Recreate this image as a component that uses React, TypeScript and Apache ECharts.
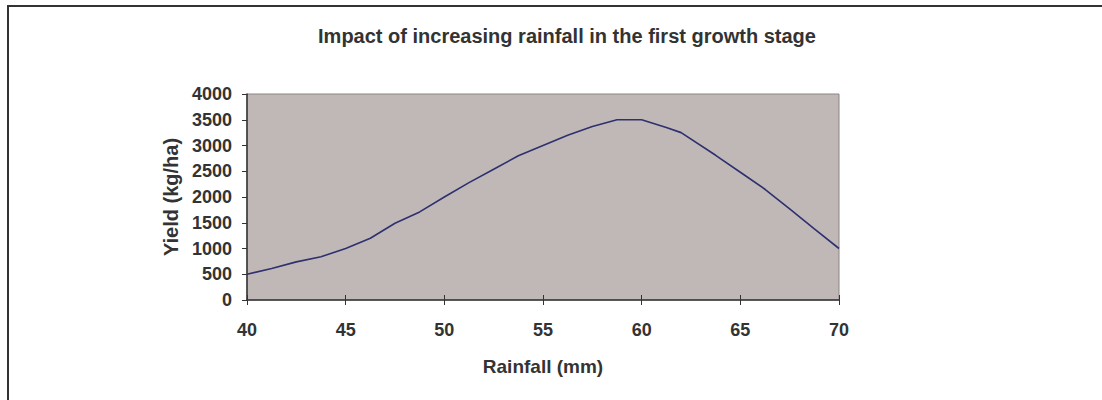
import React, { useEffect, useRef } from "react";
import * as echarts from "echarts";

// Rainfall during the first growth stage (mm) and the resulting yield (kg/ha)
const rainfall = [40, 41.25, 42.5, 43.75, 45, 46.25, 47.5, 48.75, 50, 51.25, 52.5, 53.75, 55, 56.25, 57.5, 58.75, 60, 61.25, 62, 63.75, 65, 66.25, 67.5, 68.75, 70];
const yieldKgHa = [500, 610, 740, 840, 1000, 1200, 1490, 1710, 2000, 2280, 2540, 2800, 3000, 3200, 3370, 3500, 3500, 3350, 3250, 2810, 2480, 2150, 1770, 1380, 1000];

const titleText = "Impact of increasing rainfall in the first growth stage";
const xAxisName = "Rainfall (mm)";
const yAxisName = "Yield (kg/ha)";

const FONT = "'Liberation Sans', Arial, sans-serif";
const TEXT = "#333333";

export default function App() {
  const ref = useRef<HTMLDivElement>(null);

  useEffect(() => {
    if (!ref.current) return;
    const chart = echarts.init(ref.current, undefined, { renderer: "svg" });
    const points = rainfall.map((r, i) => [r, yieldKgHa[i]]);

    chart.setOption({
      animation: false,
      backgroundColor: "#ffffff",
      textStyle: { fontFamily: FONT },
      title: {
        text: titleText,
        left: 562,
        top: 21,
        textAlign: "center",
        textStyle: { fontFamily: FONT, fontSize: 20, fontWeight: "bold", color: TEXT },
      },
      graphic: [
        {
          type: "polyline",
          shape: { points: [[8, 400], [8, 6], [1102, 6]] },
          style: { stroke: "#333333", lineWidth: 2, fill: null },
          silent: true,
        },
        {
          type: "text",
          x: 543,
          y: 357,
          style: {
            text: xAxisName,
            fontFamily: FONT,
            fontSize: 19,
            fontWeight: "bold",
            fill: TEXT,
            align: "center",
          },
        },
      ],
      grid: {
        left: 247,
        right: 263,
        top: 94,
        bottom: 100,
        show: true,
        backgroundColor: "#c0b8b6",
        borderColor: "#8c8484",
        borderWidth: 1,
      },
      xAxis: [
        {
          type: "value",
          min: 40,
          max: 70,
          interval: 5,
          axisLine: { show: true, onZero: false, lineStyle: { color: "#333333", width: 1.5 } },
          axisTick: { show: true, inside: false, length: 5, lineStyle: { color: "#333333" } },
          axisLabel: {
            margin: 21,
            fontFamily: FONT,
            fontSize: 18,
            fontWeight: "bold",
            color: TEXT,
          },
          splitLine: { show: false },
        },
        {
          type: "value",
          position: "bottom",
          min: 40,
          max: 70,
          interval: 5,
          axisLine: { show: false },
          axisTick: { show: true, inside: true, length: 5, lineStyle: { color: "#333333" } },
          axisLabel: { show: false },
          splitLine: { show: false },
        },
      ],
      yAxis: {
        type: "value",
        min: 0,
        max: 4000,
        interval: 500,
        name: yAxisName,
        nameLocation: "middle",
        nameRotate: 90,
        nameGap: 64,
        nameTextStyle: { fontFamily: FONT, fontSize: 20, fontWeight: "bold", color: TEXT },
        axisLine: { show: true, lineStyle: { color: "#333333", width: 1.5 } },
        axisTick: { show: true, inside: false, length: 5, lineStyle: { color: "#333333" } },
        axisLabel: {
          margin: 15,
          fontFamily: FONT,
          fontSize: 18,
          fontWeight: "bold",
          color: TEXT,
          formatter: (v: number) => String(v),
        },
        splitLine: { show: false },
      },
      series: [
        {
          type: "line",
          xAxisIndex: 0,
          data: points,
          showSymbol: false,
          symbol: "none",
          lineStyle: { color: "#2e3070", width: 1.6 },
        },
      ],
    });

    return () => chart.dispose();
  }, []);

  return (
    <div
      ref={ref}
      style={{ position: "absolute", left: 0, top: 0, width: 1102, height: 400 }}
    />
  );
}
